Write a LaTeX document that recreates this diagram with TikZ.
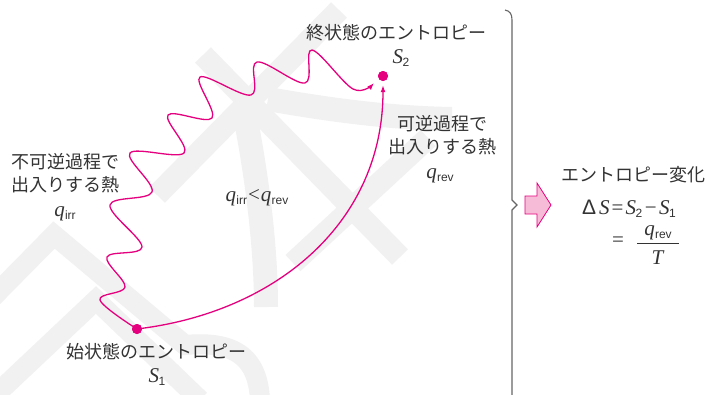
\documentclass[tikz,border=0pt]{standalone}
\usepackage{fontspec}
\setmainfont{Liberation Serif}
\newfontfamily\jpfont{Noto Sans CJK JP}
\newfontfamily\subfont{Liberation Sans}
\usetikzlibrary{arrows.meta}
\definecolor{mag}{HTML}{E5007F}
\definecolor{wm}{HTML}{F1F1F1}
\definecolor{txt}{HTML}{333333}
\definecolor{pinkfill}{HTML}{F6BBD6}
\definecolor{brk}{HTML}{666666}
\newcommand{\jpsize}{\jpfont\fontsize{18}{23}\selectfont}
\newcommand{\mthsize}{\fontsize{21}{24}\selectfont}
\newcommand{\sbx}[1]{\raisebox{-0.3ex}{\subfont\fontsize{12}{12}\selectfont #1}}
\newcommand{\qq}[1]{\textit{q}\kern0.3pt\sbx{#1}}
\newcommand{\Sx}[1]{\textit{S}\kern-0.5pt\sbx{#1}}
\begin{document}
\begin{tikzpicture}[x=1pt,y=-1pt,
  wmband/.style={draw=wm, line width=22pt},
  jptext/.style={font=\jpsize, text=txt, inner sep=0pt, align=center},
  mtext/.style={font=\mthsize, text=txt, inner sep=0pt},
  curve/.style={draw=mag, line width=1.3pt},
  tipped/.style={-{Latex[length=7pt,width=5pt]}},
  dot/.style={circle, fill=mag, inner sep=0pt, minimum size=10pt},
  brace/.style={draw=brk, line width=1.1pt}]
\fill[white] (0,0) rectangle (708,394);
\useasboundingbox (0,0) rectangle (708,394);
% watermark
\begin{scope}
\clip (0,0) rectangle (708,394);
\draw[wmband] (339,10) -- (157,195);
\draw[wmband] (203,55) -- (400,257);
\draw[wmband, line width=24pt] (268,99) .. controls (330,110) and (390,118) .. (452,119);
\draw[wmband, line width=24pt] (243,105) .. controls (258,180) and (266,250) .. (266,307);
\draw[wmband] (293,263) -- (428,138);
\draw[wmband, line width=20pt, miter limit=3] (-10,300) -- (54,235) -- (185,345) .. controls (238,340) and (258,360) .. (260,400);
\draw[wmband, line width=20pt, miter limit=3] (-10,400) -- (96,300) -- (200,400);
\end{scope}
% dots
\node[dot] (s1) at (137,329) {};
\node[dot] (s2) at (383,76) {};
\coordinate (wend) at (374,83);
% irreversible path
\draw[curve, tipped] plot[smooth, tension=0.6] coordinates {(s1) (100,300) (125,287) (107,257) (142,247) (110,205) (152,192) (130,153) (184,153) (168,115) (212,118) (200,77) (251,95) (257,62) (305,83) (312,50) (353,89) (wend)};
% reversible path
\draw[curve, tipped, shorten >=4pt] (s1) .. controls (280,310) and (383,220) .. (s2);
\node[dot] at (s1) {};
\node[dot] at (s2) {};
% labels
\node[jptext] (t2) at (396,33) {終状態のエントロピー};
\node[mtext] (s2l) at (401,58) {\Sx{2}};
\node[jptext] (t1) at (156,352) {始状態のエントロピー};
\node[mtext] (s1l) at (157,377) {\Sx{1}};
\node[jptext] (irr) at (65,173) {不可逆過程で\\出入りする熱};
\node[mtext] (qirr) at (65,214) {\qq{irr}};
\node[jptext] (rev) at (442,135) {可逆過程で\\出入りする熱};
\node[mtext] (qrev) at (440,176) {\qq{rev}};
\node[mtext] (cmp) at (257,198) {\qq{irr}\kern1pt<\kern1pt\qq{rev}};
% brace
\draw[brace] (505,10) .. controls (510,11) and (512,14) .. (512,20) -- (512,200) -- (517,205) -- (512,210) -- (512,400);
% block arrow
\draw[draw=mag, fill=pinkfill, line width=0.8pt, line join=miter] (525,196) -- (537,196) -- (537,183) -- (551,205) -- (537,227) -- (537,214) -- (525,214) -- cycle;
% result
\node[jptext] (ent) at (633,175) {エントロピー変化};
\node[mtext, anchor=west] (ds) at (582,209) {{\subfont Δ}\kern3pt\textit{S}\kern2pt=\kern2pt\Sx{2}\kern2.5pt−\kern2.5pt\Sx{1}};
\node[mtext] (eq) at (618,242) {=};
\node[mtext] (num) at (658,233) {\qq{rev}};
\draw[draw=txt, line width=0.9pt] (637,243) -- (679,243);
\node[mtext] (den) at (658,258) {\textit{T}};
\end{tikzpicture}
\end{document}
